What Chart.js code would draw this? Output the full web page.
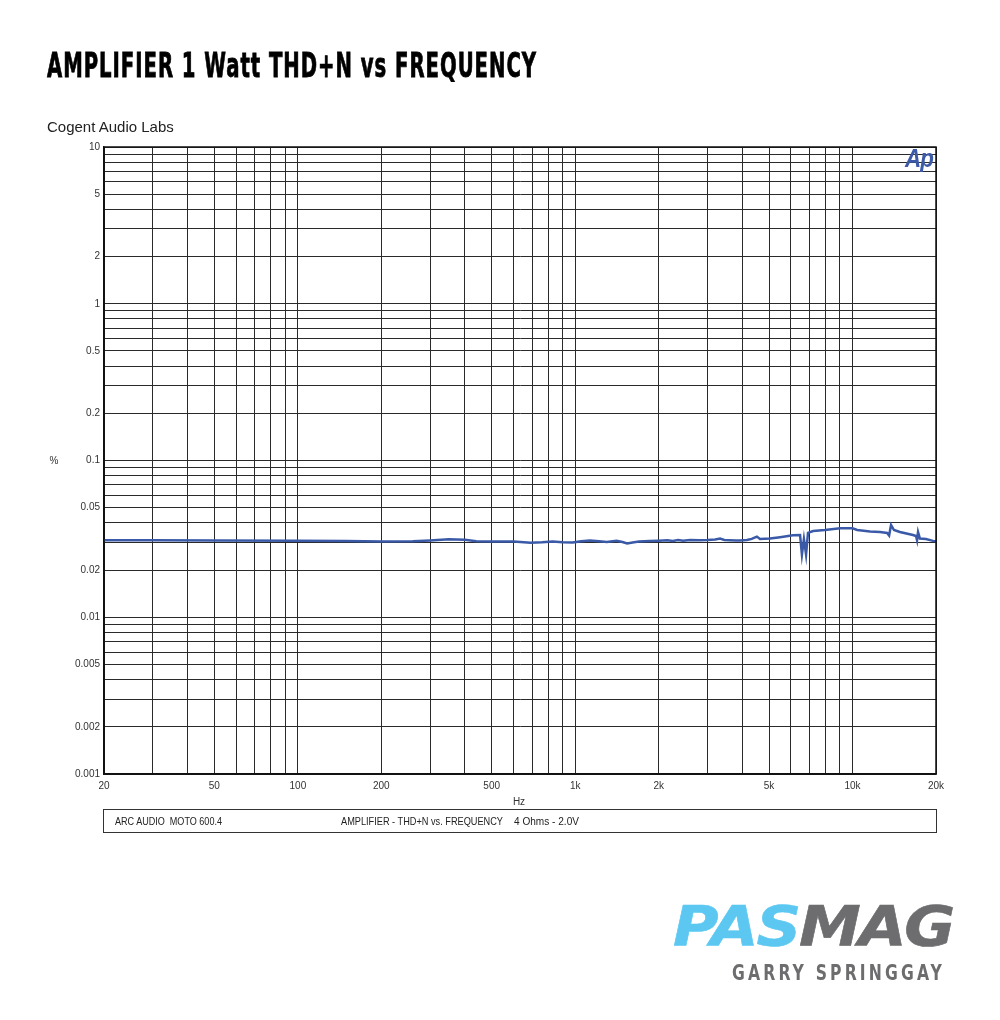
<!DOCTYPE html>
<html>
<head>
<meta charset="utf-8">
<script src="https://cdn.jsdelivr.net/npm/chart.js@4.4.1/dist/chart.umd.min.js"></script>
<style>
  html, body { margin: 0; padding: 0; background: #fff; }
  #wrap { position: relative; width: 1000px; height: 1020px; overflow: hidden; }
  #chart { position: absolute; left: 0; top: 0; }
  .txt { position: absolute; white-space: pre; line-height: 1; transform-origin: 0 0; }
  #title { -webkit-text-stroke: 0.8px #000; }
  #pasmag { -webkit-text-stroke: 0.6px currentColor; }
  #footer { position: absolute; left: 103px; top: 809px; width: 834px; height: 24px;
            box-sizing: border-box; border: 1px solid #333; }
</style>
</head>
<body>
<div id="wrap">
  <canvas id="chart" width="1000" height="1020"></canvas>
  <div id="footer"></div>
  <div class="txt" id="title">AMPLIFIER 1 Watt THD+N vs FREQUENCY</div>
  <div class="txt" id="sub">Cogent Audio Labs</div>
  <div class="txt" id="ylab">%</div>
  <div class="txt" id="xlab">Hz</div>
  <div class="txt" id="f1">ARC AUDIO  MOTO 600.4</div>
  <div class="txt" id="f2">AMPLIFIER - THD+N vs. FREQUENCY</div>
  <div class="txt" id="f3">4 Ohms - 2.0V</div>
  <div class="txt" id="ap">Ap</div>
  <div class="txt" id="pasmag"><span style="color:#5cc8f2">PAS</span><span style="color:#6d6d6f">MAG</span></div>
  <div class="txt" id="author">GARRY SPRINGGAY</div>
</div>
<script>
// THD+N (%), frequency in Hz
const freqs = [
  20, 30, 50, 100, 150, 200, 260, 300, 350, 400,
  440, 500, 600, 690, 760, 830, 900, 980, 1050, 1130,
  1220, 1300, 1410, 1480, 1540, 1610, 1700, 1850, 2000, 2150,
  2250, 2350, 2450, 2600, 2800, 3000, 3200, 3330, 3450, 3600,
  3800, 3930, 4160, 4330, 4520, 4640, 5040, 5480, 6100, 6470,
  6570, 6680, 6800, 6910, 7210, 7950, 9020, 10000, 10400, 11560,
  12570, 13330, 13550, 13770, 14110, 14820, 16520, 16940, 17090, 17230,
  17500, 18400, 19500, 20000
];
const thd = [
  0.0310, 0.0310, 0.0309, 0.0308, 0.0306, 0.0304, 0.0305, 0.0309, 0.0314, 0.0312,
  0.0305, 0.0304, 0.0304, 0.0299, 0.0301, 0.0304, 0.0301, 0.0300, 0.0305, 0.0309,
  0.0305, 0.0302, 0.0308, 0.0302, 0.0296, 0.0300, 0.0304, 0.0306, 0.0308, 0.0310,
  0.0307, 0.0311, 0.0308, 0.0311, 0.0310, 0.0311, 0.0313, 0.0318, 0.0311, 0.0310,
  0.0309, 0.0309, 0.0311, 0.0316, 0.0327, 0.0316, 0.0318, 0.0324, 0.0333, 0.0335,
  0.0251, 0.0316, 0.0251, 0.0345, 0.0355, 0.0360, 0.0369, 0.0369, 0.0360, 0.0352,
  0.0350, 0.0345, 0.0332, 0.0388, 0.0360, 0.0350, 0.0335, 0.0330, 0.0310, 0.0350,
  0.0318, 0.0316, 0.0307, 0.0305
];

const xTickValues = [20, 50, 100, 200, 500, 1000, 2000, 5000, 10000, 20000];
const xTickLabels = ['20', '50', '100', '200', '500', '1k', '2k', '5k', '10k', '20k'];
const yTickValues = [0.001, 0.002, 0.005, 0.01, 0.02, 0.05, 0.1, 0.2, 0.5, 1, 2, 5, 10];
const yTickLabels = ['0.001', '0.002', '0.005', '0.01', '0.02', '0.05', '0.1', '0.2', '0.5', '1', '2', '5', '10'];

// grid lines at every 1..9 step of each decade
function decadeSteps(min, max) {
  const out = [];
  for (let e = Math.floor(Math.log10(min)); e <= Math.ceil(Math.log10(max)); e++) {
    for (let m = 1; m <= 9; m++) {
      const v = m * Math.pow(10, e);
      if (v >= min * 0.9999 && v <= max * 1.0001) out.push(v);
    }
  }
  return out;
}

function labelFor(values, labels) {
  return function (value) {
    const i = values.findIndex(t => Math.abs(t - value) / t < 1e-6);
    return i >= 0 ? labels[i] : '';
  };
}

const frame = {
  id: 'frame',
  afterDatasetsDraw(chart) {
    const { ctx, chartArea: a } = chart;
    ctx.save();
    ctx.strokeStyle = '#111';
    ctx.lineWidth = 1.5;
    ctx.strokeRect(a.left, a.top, a.right - a.left, a.bottom - a.top);
    ctx.restore();
  }
};

const tickFont = { family: 'Liberation Sans', size: 10 };

new Chart(document.getElementById('chart'), {
  type: 'line',
  data: {
    datasets: [{
      data: freqs.map((f, i) => ({ x: f, y: thd[i] })),
      borderColor: '#3a5aa8',
      borderWidth: 2.5,
      pointRadius: 0,
      tension: 0,
      fill: false
    }]
  },
  options: {
    responsive: false,
    animation: false,
    devicePixelRatio: 1,
    layout: { padding: { left: 0, top: 147, right: 64, bottom: 216 } },
    plugins: { legend: { display: false }, tooltip: { enabled: false } },
    scales: {
      x: {
        type: 'logarithmic',
        min: 20,
        max: 20000,
        afterBuildTicks: s => { s.ticks = decadeSteps(20, 20000).map(v => ({ value: v })); },
        afterFit: s => { s.height = 30; },
        ticks: {
          autoSkip: false, maxRotation: 0, minRotation: 0, padding: 6,
          color: '#333', font: tickFont,
          callback: labelFor(xTickValues, xTickLabels)
        },
        grid: { color: '#2a2a2a', lineWidth: 1, drawTicks: false },
        border: { color: '#111', width: 1.5 }
      },
      y: {
        type: 'logarithmic',
        min: 0.001,
        max: 10,
        afterBuildTicks: s => { s.ticks = decadeSteps(0.001, 10).map(v => ({ value: v })); },
        afterFit: s => { s.width = 104; },
        ticks: {
          autoSkip: false, padding: 4,
          color: '#333', font: tickFont,
          callback: labelFor(yTickValues, yTickLabels)
        },
        grid: { color: '#2a2a2a', lineWidth: 1, drawTicks: false },
        border: { color: '#111', width: 1.5 }
      }
    }
  },
  plugins: [frame]
});

// place a text block by its baseline, optionally squeezed to a target width
function place(id, opts) {
  const el = document.getElementById(id);
  el.style.font = opts.font;
  el.style.color = opts.color || '#000';
  if (opts.spacing) el.style.letterSpacing = opts.spacing;
  const probe = document.createElement('span');
  probe.style.display = 'inline-block';
  probe.style.width = '0';
  probe.style.height = '0';
  el.appendChild(probe);
  el.style.left = '0px';
  el.style.top = '0px';
  const box = el.getBoundingClientRect();
  const base = probe.getBoundingClientRect().top - box.top;
  let w = box.width;
  let sx = 1;
  if (opts.width) { sx = opts.width / w; w = opts.width; }
  let left = opts.x;
  if (opts.align === 'center') left = opts.x - w / 2;
  el.style.left = left + 'px';
  el.style.top = (opts.baseline - base) + 'px';
  if (sx !== 1) el.style.transform = 'scaleX(' + sx + ')';
}

place('title', { font: 'bold 34px "DejaVu Sans Condensed", "DejaVu Sans"', x: 47, baseline: 77, width: 490, spacing: '1.5px' });
place('sub', { font: '15px "Liberation Sans", Arial', color: '#222', x: 47, baseline: 132 });
place('ylab', { font: '10px "Liberation Sans", Arial', color: '#333', x: 54, baseline: 464, align: 'center' });
place('xlab', { font: '10px "Liberation Sans", Arial', color: '#333', x: 519, baseline: 805, align: 'center' });
place('f1', { font: '11px "Liberation Sans", Arial', color: '#222', x: 115, baseline: 825, width: 107 });
place('f2', { font: '11px "Liberation Sans", Arial', color: '#222', x: 341, baseline: 825, width: 162 });
place('f3', { font: '11px "Liberation Sans", Arial', color: '#222', x: 514, baseline: 825, width: 65 });
place('ap', { font: 'italic bold 25px "Liberation Sans", Arial', color: '#3d5aa8', x: 905, baseline: 167, width: 28, spacing: '-1px' });
place('pasmag', { font: 'italic bold 55px "DejaVu Sans"', x: 673, baseline: 945, width: 280, spacing: '-2px' });
place('author', { font: 'bold 22px "DejaVu Sans Condensed", "DejaVu Sans"', color: '#6d6d6f', x: 732, baseline: 980, width: 213, spacing: '4px' });
</script>
</body>
</html>
